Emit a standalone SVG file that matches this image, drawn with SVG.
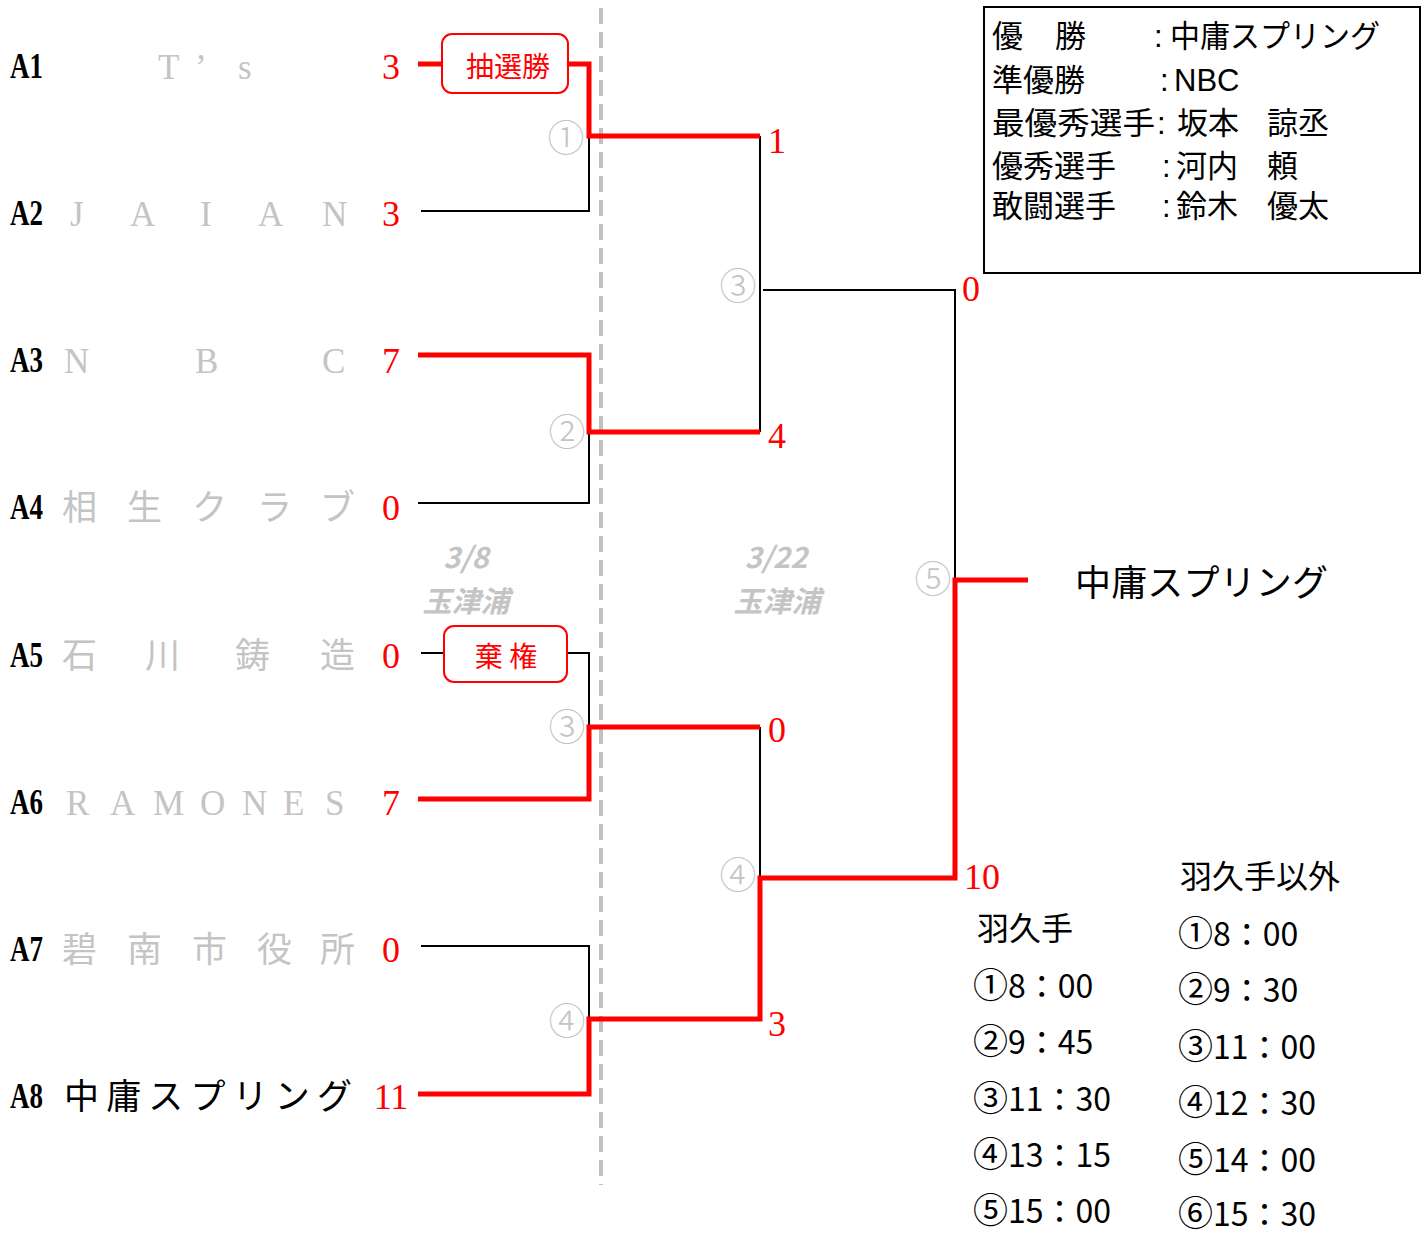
<svg xmlns="http://www.w3.org/2000/svg" width="1428" height="1234" viewBox="0 0 1428 1234">
<style>
.lab{font-family:"Liberation Serif",serif;font-weight:bold;font-size:35px;fill:#000}
.team{font-family:"Liberation Serif","Noto Sans CJK JP",serif;font-size:35px;fill:#c4c4c4}
.sc{font-family:"Liberation Serif",serif;font-size:36px;fill:#f00;text-anchor:middle}
.cn{font-family:"Noto Sans CJK JP","DejaVu Sans",sans-serif;font-size:37px;fill:#c4c4c4;text-anchor:middle;font-weight:300}
.blk{fill:none;stroke:#000;stroke-width:2}
.red{fill:none;stroke:#f00;stroke-width:5}
.badge rect{fill:#fff;stroke:#f00;stroke-width:2}
.badge text{font-family:"Noto Sans CJK JP",sans-serif;font-size:28px;fill:#f00;text-anchor:middle}
.date{font-family:"Noto Sans CJK JP",sans-serif;font-weight:bold;font-style:italic;font-size:29px;fill:#c4c4c4;text-anchor:middle}
.info{font-family:"Liberation Sans","Noto Sans CJK JP",sans-serif;font-size:31px;fill:#000}
.sch{font-family:"Noto Sans CJK JP",sans-serif;font-size:32px;fill:#000}
.sch .c{font-size:35px}
.win{font-family:"Noto Sans CJK JP",serif;font-size:36px;fill:#000}
</style>
<rect width="1428" height="1234" fill="#fff"/>
<path d="M601,8 V1185" stroke="#c0c0c0" stroke-width="4" stroke-dasharray="16 8" fill="none"/>
<g id="connectors">
<path class="blk" d="M421,211 H589 V136"/>
<path class="blk" d="M418,503 H589 V432"/>
<path class="blk" d="M421,653 H589 V727"/>
<path class="blk" d="M421,946 H589 V1019"/>
<path class="blk" d="M760,136 V432"/>
<path class="blk" d="M763,290 H955 V580"/>
<path class="blk" d="M760,727 V878"/>
<path class="red" d="M418,64 H589 V136 H760"/>
<path class="red" d="M418,355 H589 V432 H760"/>
<path class="red" d="M418,799 H589 V727 H760"/>
<path class="red" d="M418,1094 H589 V1019 H760 V878 H955 V580 H1028"/>
</g>
<g id="teams">
<g id="A1"><text class="lab" x="10" y="78" textLength="33" lengthAdjust="spacingAndGlyphs">A1</text><text class="team" x="158 195 238" y="79">T’s</text><text class="sc" x="391" y="79">3</text></g>
<g id="A2"><text class="lab" x="10" y="225" textLength="33" lengthAdjust="spacingAndGlyphs">A2</text><text class="team" x="70 130 200 258 322" y="226">JAIAN</text><text class="sc" x="391" y="226">3</text></g>
<g id="A3"><text class="lab" x="10" y="372" textLength="33" lengthAdjust="spacingAndGlyphs">A3</text><text class="team" x="64 195 322" y="373">NBC</text><text class="sc" x="391" y="373">7</text></g>
<g id="A4"><text class="lab" x="10" y="519" textLength="33" lengthAdjust="spacingAndGlyphs">A4</text><text class="team" x="62 127 192 257 320" y="520">相生クラブ</text><text class="sc" x="391" y="520">0</text></g>
<g id="A5"><text class="lab" x="10" y="667" textLength="33" lengthAdjust="spacingAndGlyphs">A5</text><text class="team" x="62 145 235 320" y="668">石川鋳造</text><text class="sc" x="391" y="668">0</text></g>
<g id="A6"><text class="lab" x="10" y="814" textLength="33" lengthAdjust="spacingAndGlyphs">A6</text><text class="team" x="66 110 153 200 242 283 325" y="815">RAMONES</text><text class="sc" x="391" y="815">7</text></g>
<g id="A7"><text class="lab" x="10" y="961" textLength="33" lengthAdjust="spacingAndGlyphs">A7</text><text class="team" x="62 127 192 257 320" y="962">碧南市役所</text><text class="sc" x="391" y="962">0</text></g>
<g id="A8"><text class="lab" x="10" y="1108" textLength="33" lengthAdjust="spacingAndGlyphs">A8</text><text class="team" x="64" y="1109" style="fill:#000" textLength="288" lengthAdjust="spacing">中庸スプリング</text><text class="sc" x="391" y="1109">11</text></g>
</g>
<g id="badges">
<g class="badge" id="lottery"><rect x="442" y="34" width="126" height="59" rx="10"/><text x="508" y="77">抽選勝</text></g>
<g class="badge" id="forfeit"><rect x="444" y="626" width="123" height="56" rx="10"/><text x="506" y="667">棄 権</text></g>
</g>
<g id="match-numbers">
<text class="cn" x="566" y="152">①</text>
<text class="cn" x="567" y="446">②</text>
<text class="cn" x="567" y="741">③</text>
<text class="cn" x="567" y="1035">④</text>
<text class="cn" x="738" y="300">③</text>
<text class="cn" x="738" y="889">④</text>
<text class="cn" x="933" y="593">⑤</text>
</g>
<g id="round2-scores">
<text class="sc" x="777" y="153">1</text>
<text class="sc" x="777" y="448">4</text>
<text class="sc" x="777" y="742">0</text>
<text class="sc" x="777" y="1036">3</text>
<text class="sc" x="971" y="301">0</text>
<text class="sc" x="982" y="889">10</text>
</g>
<g id="dates">
<text class="date" x="466" y="568">3/8</text>
<text class="date" x="466" y="612">玉津浦</text>
<text class="date" x="776" y="568">3/22</text>
<text class="date" x="777" y="612">玉津浦</text>
</g>
<g id="champion"><text class="win" x="1075" y="596" textLength="253" lengthAdjust="spacing">中庸スプリング</text></g>
<g id="results-box">
<rect x="984" y="7" width="436" height="266" fill="#fff" stroke="#000" stroke-width="2"/>
<text class="info" x="992" y="47">優</text><text class="info" x="1055" y="47">勝</text>
<text class="info" x="1154" y="47">:</text><text class="info" x="1170" y="47" textLength="210" lengthAdjust="spacingAndGlyphs">中庸スプリング</text>
<text class="info" x="992" y="91">準優勝</text><text class="info" x="1160" y="91">:</text><text class="info" x="1174" y="91">NBC</text>
<text class="info" x="992" y="134" textLength="163" lengthAdjust="spacingAndGlyphs">最優秀選手</text><text class="info" x="1157" y="134">:</text><text class="info" x="1177" y="134">坂本</text><text class="info" x="1267" y="134">諒丞</text>
<text class="info" x="992" y="177">優秀選手</text><text class="info" x="1162" y="177">:</text><text class="info" x="1176" y="177">河内</text><text class="info" x="1267" y="177">頼</text>
<text class="info" x="992" y="217">敢闘選手</text><text class="info" x="1162" y="217">:</text><text class="info" x="1176" y="217">鈴木</text><text class="info" x="1267" y="217">優太</text>
</g>
<g id="schedule" class="sch">
<text class="sch" x="977" y="940">羽久手</text>
<text class="sch" x="973" y="998"><tspan class="c">①</tspan>8：00</text>
<text class="sch" x="973" y="1054"><tspan class="c">②</tspan>9：45</text>
<text class="sch" x="973" y="1111"><tspan class="c">③</tspan>11：30</text>
<text class="sch" x="973" y="1167"><tspan class="c">④</tspan>13：15</text>
<text class="sch" x="973" y="1223"><tspan class="c">⑤</tspan>15：00</text>
<text class="sch" x="1180" y="888">羽久手以外</text>
<text class="sch" x="1178" y="946"><tspan class="c">①</tspan>8：00</text>
<text class="sch" x="1178" y="1002"><tspan class="c">②</tspan>9：30</text>
<text class="sch" x="1178" y="1059"><tspan class="c">③</tspan>11：00</text>
<text class="sch" x="1178" y="1115"><tspan class="c">④</tspan>12：30</text>
<text class="sch" x="1178" y="1172"><tspan class="c">⑤</tspan>14：00</text>
<text class="sch" x="1178" y="1226"><tspan class="c">⑥</tspan>15：30</text>
</g>
</svg>
